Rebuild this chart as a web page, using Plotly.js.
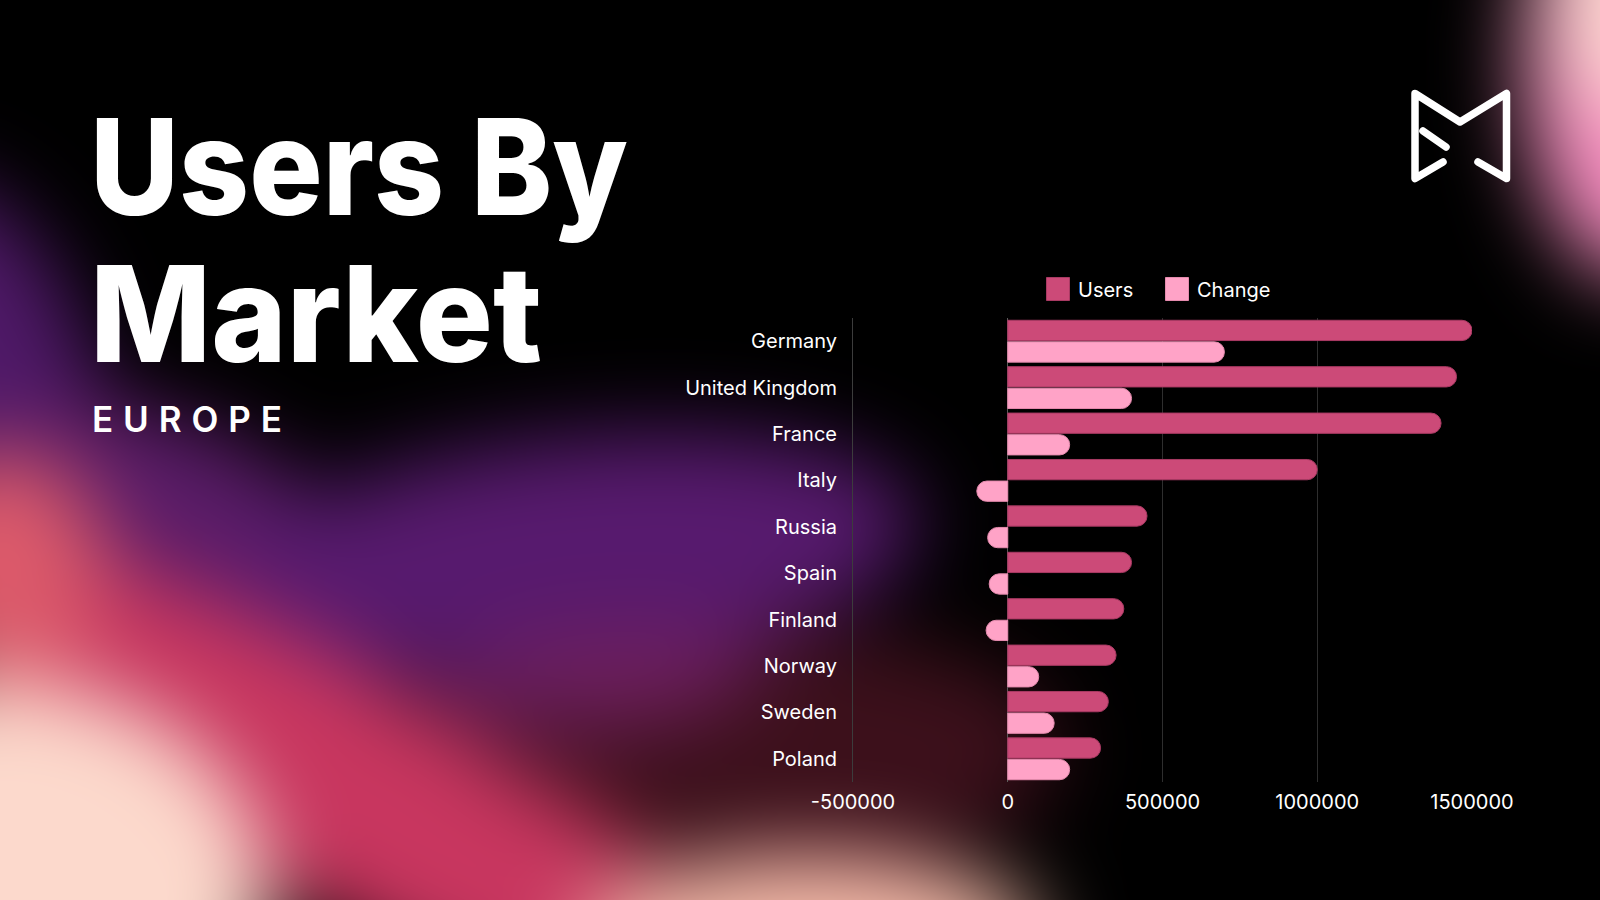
<!DOCTYPE html>
<html>
<head>
<meta charset="utf-8">
<script src="https://cdn.plot.ly/plotly-3.0.1.min.js"></script>
<style>
  html, body { margin:0; padding:0; background:#000; }
  #wrap { position:relative; width:1600px; height:900px; overflow:hidden; background:#000; }
  #bg { position:absolute; left:-200px; top:-200px; width:2000px; height:1300px; background:#000; filter:blur(42px); }
  #bg div { position:absolute; border-radius:50%; }
  #fg { position:absolute; left:0; top:0; }
  #chart { position:absolute; left:0; top:0; width:1600px; height:900px; }
</style>
</head>
<body>
<div id="wrap">
  <div id="bg"></div>
  <div id="chart"></div>
  <svg id="fg" width="1600" height="900" viewBox="0 0 1600 900" style="pointer-events:none">
    <text x="90" y="215" font-family="Inter, 'Open Sans', sans-serif" font-weight="800" font-size="133" fill="#fff" textLength="538" lengthAdjust="spacingAndGlyphs">Users By</text>
    <text x="90" y="362" font-family="Inter, 'Open Sans', sans-serif" font-weight="800" font-size="133" fill="#fff" textLength="452" lengthAdjust="spacingAndGlyphs">Market</text>
    <text x="92" y="432" font-family="Inter, 'Open Sans', sans-serif" font-weight="600" font-size="35" fill="#fff" textLength="190" lengthAdjust="spacing">EUROPE</text>
    <g fill="none" stroke="#fff" stroke-width="7.5" stroke-linecap="round" stroke-linejoin="round">
      <path d="M1443,162 L1415,178.5 L1415,93.5 L1460,122 L1506.5,93.5 L1506.5,178.5 L1478,162"/>
      <path d="M1423,131 L1446,147"/>
    </g>
  </svg>
</div>
<script>
const categories = ["Germany","United Kingdom","France","Italy","Russia","Spain","Finland","Norway","Sweden","Poland"];
const users = [1500000,1450000,1400000,1000000,450000,400000,375000,350000,325000,300000];
const change = [700000,400000,200000,-100000,-65000,-60000,-70000,100000,150000,200000];
const tickVals = [-500000,0,500000,1000000,1500000];
const tickLabels = ["-500000","0","500000","1000000","1500000"];

// soft background shapes (decoration only), blurred by the container
function blob(cx, cy, rx, ry, rot, color) {
  const d = document.createElement("div");
  d.style.left = (cx - rx + 200) + "px"; d.style.top = (cy - ry + 200) + "px";
  d.style.width = (2*rx) + "px"; d.style.height = (2*ry) + "px";
  d.style.transform = "rotate(" + rot + "deg)";
  d.style.background = color;
  document.getElementById("bg").appendChild(d);
}
blob(800, 750, 260, 120, 0, "#3c101b");
blob(-30, 370, 120, 200, -20, "#4f1968");
blob(190, 530, 210, 100, 28, "#5a1c68");
blob(570, 555, 350, 118, -6, "#571a6e");
blob(600, 680, 160, 50, -5, "#6e1f5c");
blob(360, 800, 470, 115, 30, "#c8365f");
blob(0, 565, 105, 115, 0, "#dc5a6a");
blob(0, 900, 270, 220, 0, "#fcd9cc");
blob(810, 935, 230, 80, 0, "#f6bcaa");
blob(1635, 60, 110, 220, 0, "#f78cc0");
blob(1625, -10, 65, 130, 0, "#ffdcd2");

const fontFam = "Inter, 'Open Sans', sans-serif";
const traces = [
  {type:"bar", orientation:"h", name:"Users", y:categories, x:users,
   marker:{color:"#cc4a78", line:{color:"#a93a63", width:1}, cornerradius:10}, hoverinfo:"skip", cliponaxis:false},
  {type:"bar", orientation:"h", name:"Change", y:categories, x:change,
   marker:{color:"#ffa3c7", line:{color:"#e58bae", width:1}, cornerradius:10}, hoverinfo:"skip", cliponaxis:false}
];
const layout = {
  width:1600, height:900,
  paper_bgcolor:"rgba(0,0,0,0)", plot_bgcolor:"rgba(0,0,0,0)",
  margin:{l:853, r:127.5, t:318, b:118, pad:0},
  barmode:"group", bargap:0.07, bargroupgap:0.06,
  font:{family:fontFam, color:"#fff", size:20},
  showlegend:true,
  legend:{orientation:"h", xref:"container", yref:"container", x:1038/1600, y:1-289/900,
          xanchor:"left", yanchor:"middle", font:{size:20, color:"#fff", family:fontFam},
          bgcolor:"rgba(0,0,0,0)", itemclick:false, entrywidth:74, entrywidthmode:"pixels"},
  xaxis:{range:[-500000,1500000], tickvals:tickVals, ticktext:tickLabels,
         showgrid:true, gridcolor:"#2e2e2e", gridwidth:1,
         zeroline:true, zerolinecolor:"#5a5a5a", zerolinewidth:1,
         showline:false, ticks:"", ticklabelstandoff:6,
         tickfont:{size:20, color:"#fff", family:fontFam}, fixedrange:true},
  yaxis:{type:"category", autorange:"reversed", showgrid:false, zeroline:false,
         showline:true, linecolor:"#3c3c3c", linewidth:1, ticks:"", ticklabelstandoff:11,
         tickfont:{size:20, color:"#fff", family:fontFam}, fixedrange:true}
};
Plotly.newPlot("chart", traces, layout, {displayModeBar:false, staticPlot:true}).then(function(gd){
  gd.querySelectorAll(".legend .legendpoints path").forEach(function(p){
    p.setAttribute("d", "M11.5,11.5H-11.5V-11.5H11.5Z");
  });
});
</script>
</body>
</html>
